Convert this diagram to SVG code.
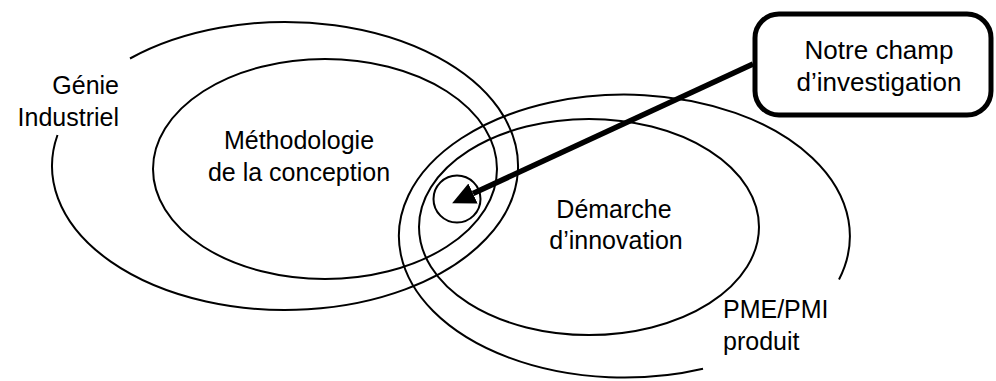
<svg xmlns="http://www.w3.org/2000/svg" width="996" height="381" viewBox="0 0 996 381">
<style>
.e{fill:none;stroke:#000;stroke-width:2}
.t{font-family:"Liberation Sans",Arial,sans-serif;font-size:25px;fill:#000}
.m{text-anchor:middle}
.r{text-anchor:end}
.box{fill:#fff;stroke:#000;stroke-width:5}
.arrow{fill:none;stroke:#000;stroke-width:5.5}
</style>
<defs>
<marker id="ah" markerUnits="userSpaceOnUse" markerWidth="24" markerHeight="22" refX="0" refY="11" orient="auto">
<path d="M0,0 L23,11 L0,22 z" fill="#000"/>
</marker>
</defs>
<rect width="996" height="381" fill="#fff"/>
<g id="genie-industriel">
<path class="e" d="M130,58.5 A233,144 0 1 1 57.5,135"/>
<text class="t r" x="119" y="94">Génie</text>
<text class="t r" x="119" y="126">Industriel</text>
</g>
<g id="methodologie">
<ellipse class="e" cx="325" cy="169" rx="172" ry="110"/>
<text class="t m" x="299" y="149">Méthodologie</text>
<text class="t m" x="299" y="181">de la conception</text>
</g>
<g id="pme-pmi">
<path class="e" d="M703,368.7 A225.5,141.5 0 1 1 839,279.5"/>
<text class="t" x="723" y="318">PME/PMI</text>
<text class="t" x="723" y="350">produit</text>
</g>
<g id="demarche">
<ellipse class="e" cx="589" cy="227" rx="170" ry="108"/>
<text class="t m" x="614" y="218">Démarche</text>
<text class="t m" x="616" y="249">d’innovation</text>
</g>
<g id="champ">
<circle class="e" cx="457" cy="199" r="23.5"/>
</g>
<g id="notre-champ">
<rect class="box" x="755" y="14" width="236" height="101" rx="24" ry="24"/>
<text class="t m" x="879" y="59" style="font-size:26px">Notre champ</text>
<text class="t m" x="879" y="91" style="font-size:26px">d’investigation</text>
</g>
<g id="connectors">
<line class="arrow" x1="753" y1="64" x2="473" y2="193.5" marker-end="url(#ah)"/>
</g>
</svg>
